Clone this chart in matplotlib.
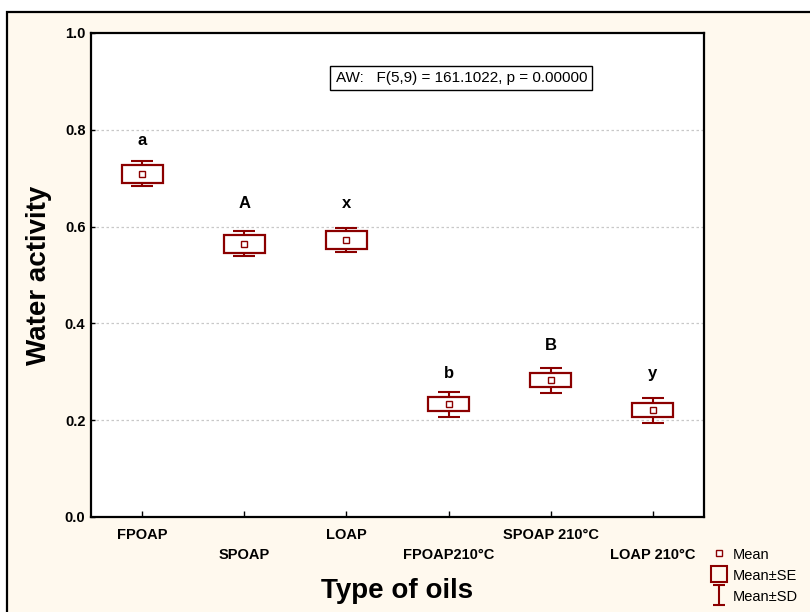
import numpy as np
import matplotlib
matplotlib.use('Agg')
import matplotlib.pyplot as plt
from matplotlib.lines import Line2D
from matplotlib.patches import Rectangle
from matplotlib.path import Path

plt.rcParams['font.family'] = ['Liberation Sans', 'DejaVu Sans']

# data
oils = ['FPOAP', 'SPOAP', 'LOAP', 'FPOAP210°C', 'SPOAP 210°C', 'LOAP 210°C']
mean_aw = [0.709, 0.565, 0.572, 0.233, 0.283, 0.221]
se_aw = [0.0186, 0.0186, 0.0180, 0.0149, 0.0151, 0.0149]
sd_aw = [0.0257, 0.0254, 0.0250, 0.0258, 0.0258, 0.0258]
letters = ['a', 'A', 'x', 'b', 'B', 'y']
letter_y = [0.769, 0.638, 0.638, 0.287, 0.345, 0.287]
stat_text = 'AW:   F(5,9) = 161.1022, p = 0.00000'

red = '#8B0000'
cream = '#FFF9EE'

fig = plt.figure(figsize=(8.10, 6.12), dpi=100, facecolor='white')
# cream panel with black frame on top/left
fig.patches.append(Rectangle((7 / 810, -0.1), 1.2, (600 / 612) + 0.1,
                             transform=fig.transFigure, facecolor=cream,
                             edgecolor='black', lw=1.6, zorder=-10))

ax = fig.add_axes([91 / 810, 95 / 612, 613 / 810, 484 / 612])
ax.set_facecolor('white')

x = np.arange(len(oils))
mean_aw = np.array(mean_aw)
se_aw = np.array(se_aw)
sd_aw = np.array(sd_aw)

ax.errorbar(x, mean_aw, yerr=sd_aw, fmt='none', ecolor=red, elinewidth=1.5,
            capsize=7.8, capthick=1.5, zorder=2)
ax.bar(x, 2 * se_aw, bottom=mean_aw - se_aw, width=0.4, facecolor='white',
       edgecolor=red, linewidth=1.6, zorder=3)
ax.plot(x, mean_aw, 's', ms=4.2, mfc='white', mec=red, mew=1.0, zorder=4)

for xi, lab, ly in zip(x, letters, letter_y):
    ax.text(xi, ly, lab, ha='center', va='baseline', fontsize=12,
            fontweight='bold')

ax.text(0.604, 0.907, stat_text, transform=ax.transAxes, ha='center',
        va='center', fontsize=11,
        bbox=dict(boxstyle='square,pad=0.35', facecolor='white',
                  edgecolor='black', lw=1.0))

ax.set_xlim(-0.5, 5.5)
ax.set_ylim(0, 1.0)
ax.set_yticks([0.0, 0.2, 0.4, 0.6, 0.8, 1.0])
ax.set_yticklabels(['0.0', '0.2', '0.4', '0.6', '0.8', '1.0'])
ax.set_xticks(x)
ax.set_xticklabels(oils)
for t in ax.get_xticklabels() + ax.get_yticklabels():
    t.set_fontweight('bold')
    t.set_fontsize(10.5)
ax.tick_params(axis='x', direction='in', length=4, width=1, pad=8)
ax.tick_params(axis='y', direction='in', length=3, width=1, pad=4)
for tick in ax.xaxis.get_major_ticks()[1::2]:
    tick.set_pad(22)

for s in ax.spines.values():
    s.set_linewidth(1.6)

for gy in [0.2, 0.4, 0.6, 0.8]:
    ax.axhline(gy, color='#C8C8C8', lw=0.9, ls=(0, (2, 2)), zorder=0)

ax.set_ylabel('Water activity', fontsize=20, fontweight='bold', labelpad=9)
ax.set_xlabel('Type of oils', fontsize=20, fontweight='bold', labelpad=12)

sd_marker = Path([(-0.6, 1), (0.6, 1), (0, 1), (0, -1), (-0.6, -1), (0.6, -1)],
                 [Path.MOVETO, Path.LINETO, Path.MOVETO, Path.LINETO,
                  Path.MOVETO, Path.LINETO])
handles = [
    Line2D([], [], ls='none', marker='s', ms=4.0, mfc='white', mec=red, mew=1.0),
    Line2D([], [], ls='none', marker='s', ms=11, mfc='none', mec=red, mew=1.5),
    Line2D([], [], ls='none', marker=sd_marker, ms=15, mfc='none', mec=red, mew=1.5),
]
fig.legend(handles, ['Mean', 'Mean±SE', 'Mean±SD'], loc='upper left',
           bbox_to_anchor=(712 / 810, 1 - 547 / 612), frameon=False,
           fontsize=10.5, handlelength=1.0, handleheight=1.0,
           handletextpad=0.45, labelspacing=0.45, borderpad=0, borderaxespad=0)

fig.savefig('out.png', dpi=100, facecolor=fig.get_facecolor())
